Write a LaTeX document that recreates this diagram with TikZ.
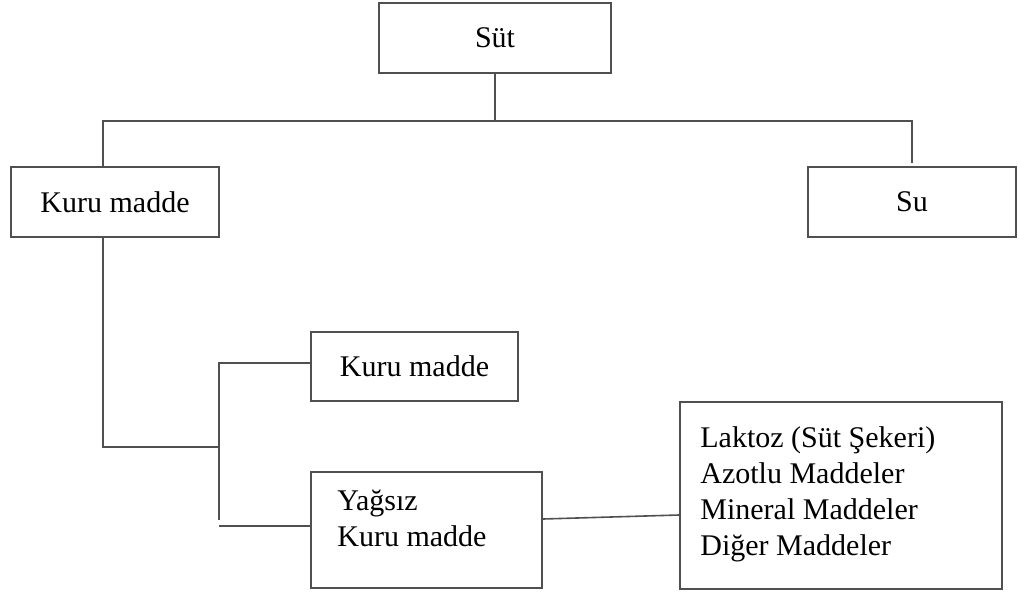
\documentclass[tikz,border=0pt]{standalone}
\usepackage{fontspec}
\setmainfont{Liberation Serif}
\usetikzlibrary{calc}
\definecolor{linegray}{RGB}{80,80,80}
\tikzset{
  box/.style={draw=linegray, line width=0.8pt, rectangle, inner sep=0pt, fill=white},
  conn/.style={draw=linegray, line width=0.8pt},
  lbl/.style={inner sep=0pt, font=\fontsize{15}{18}\selectfont, text=black}
}
\begin{document}
\begin{tikzpicture}[x=0.5pt,y=-0.5pt]
\useasboundingbox (0,0) rectangle (1020,593);
% boxes
\node[box, minimum width=116pt, minimum height=35pt] (sut) at (495,38) {};
\node[lbl] (sutt) at (495,38) {Süt};
\node[box, minimum width=104pt, minimum height=35pt] (kuru) at (115,202) {};
\node[lbl] (kurut) at (115,202) {Kuru madde};
\node[box, minimum width=104pt, minimum height=35pt] (su) at (912,202) {};
\node[lbl] (sut2) at (912,202) {Su};
\node[box, minimum width=103.5pt, minimum height=34.5pt] (kuru2) at (414.5,366.5) {};
\node[lbl] (kuru2t) at (414.5,366.5) {Kuru madde};
\node[box, minimum width=115.5pt, minimum height=58pt] (yag) at (426.5,530) {};
\node[lbl, anchor=north west, align=left] (yagt) at (337,490) {Yağsız\\Kuru madde};
\node[box, minimum width=161pt, minimum height=93.5pt] (lak) at (841,495.5) {};
\node[lbl, anchor=north west, align=left] (lakt) at (700,426) {Laktoz (Süt Şekeri)\\Azotlu Maddeler\\Mineral Maddeler\\Diğer Maddeler};
% junction coordinates
\coordinate (j) at (495,121);
\coordinate (kl) at (103,121);
\coordinate (sr) at (912,121);
\coordinate (sutop) at (912,163);
\coordinate (kd) at (103,447);
\coordinate (kj) at (219,447);
\coordinate (b1) at (219,363);
\coordinate (b2) at (219,520);
\coordinate (b3) at (219,526);
% connectors
\draw[conn] (sut.south) -- (j);
\draw[conn] (kl |- kuru.north) -- (kl) -- (sr) -- (sutop);
\draw[conn] (kl |- kuru.south) -- (kd) -- (kj);
\draw[conn] (kuru2.west |- b1) -- (b1) -- (b2);
\draw[conn] (b3) -- (yag.west |- b3);
\draw[conn] ($(yag.east)+(0,-11)$) -- ($(lak.west)+(0,19.5)$);
\end{tikzpicture}
\end{document}
